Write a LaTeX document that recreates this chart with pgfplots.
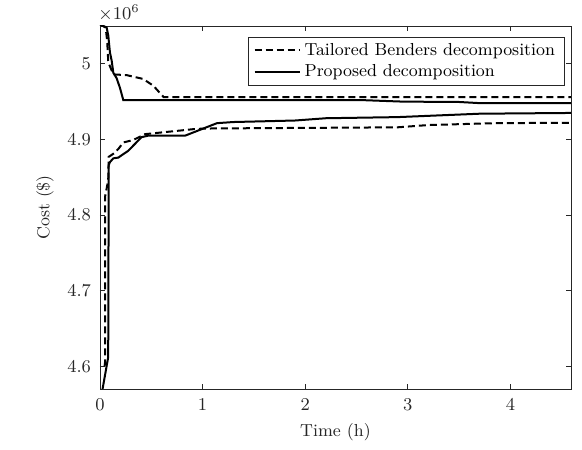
\documentclass[border=0pt]{standalone}
\usepackage{pgfplots}
\pgfplotsset{compat=1.18}
\definecolor{axgray}{rgb}{0.15,0.15,0.15}
\begin{document}
\begin{tikzpicture}[font=\fontsize{8.7}{10.4}\selectfont]
\begin{axis}[
  scale only axis,
  width=235.5pt, height=181.5pt,
  xmin=0, xmax=4.59,
  ymin=4570000, ymax=5050000,
  xtick={0,1,2,3,4},
  ytick={4600000,4700000,4800000,4900000,5000000},
  scaled y ticks=base 10:-6,
  ytick scale label code/.code={$\times10^{#1}$},
  every y tick scale label/.style={at={(rel axis cs:0,1)}, anchor=south west, inner sep=0pt, yshift=2pt, text=axgray},
  tick align=inside,
  major tick length=2.35pt,
  minor tick num=0,
  axis line style={axgray, line width=0.35pt},
  every tick/.style={axgray, line width=0.35pt},
  tick label style={text=axgray},
  yticklabel style={xshift=-1pt},
  xticklabel style={yshift=-1.5pt},
  xlabel={Time (h)},
  ylabel={Cost (\$)},
  xlabel style={at={([yshift=-21.5pt]axis description cs:0.5,0)}, anchor=center, text=axgray},
  ylabel style={at={([xshift=-27.5pt]axis description cs:0,0.5)}, anchor=center, text=axgray},
  legend cell align=left,
  legend style={at={(axis description cs:1,1)}, anchor=north east, xshift=-3pt, yshift=-5.3pt,
    draw=axgray, line width=0.35pt, fill=white, inner xsep=2.8pt, inner ysep=1pt,
    font=\fontsize{8.7}{10.4}\selectfont, row sep=-0.7pt},
  legend image code/.code={\draw[#1, line width=1pt] (0pt,0pt) -- (22.5pt,0pt);},
]
\addplot[black, line width=1pt, dash pattern=on 3.5pt off 2pt] coordinates {
(0,5052000)(0.055,5048000)(0.07,5030000)(0.081,5002000)(0.13,4986000)(0.26,4985000)(0.42,4980000)(0.52,4971000)(0.62,4956000)(4.59,4956000)};
\addlegendentry{Tailored Benders decomposition}
\addplot[black, line width=1pt] coordinates {
(0,5052000)(0.065,5048000)(0.081,5037000)(0.097,5015000)(0.114,5004000)(0.130,4988000)(0.162,4981000)(0.195,4968000)(0.227,4952000)(2.55,4952000)(2.95,4950000)(3.50,4949500)(3.70,4948000)(4.59,4948000)};
\addlegendentry{Proposed decomposition}
\addplot[black, line width=1pt, dash pattern=on 3.5pt off 2pt, forget plot] coordinates {
(0.045,4600000)(0.049,4605000)(0.049,4824000)(0.08,4846000)(0.085,4877000)(0.13,4881000)(0.18,4887500)(0.227,4896000)(0.32,4899000)(0.44,4907000)(0.80,4912000)(0.94,4914000)(1.10,4914500)(2.90,4916000)(3.20,4919000)(3.85,4921500)(4.59,4922000)};
\addplot[black, line width=1pt, forget plot] coordinates {
(0.012,4560000)(0.08,4612000)(0.085,4866000)(0.097,4870000)(0.13,4875000)(0.18,4876000)(0.21,4879000)(0.276,4885000)(0.34,4894000)(0.406,4903000)(0.47,4905000)(0.83,4905000)(1.14,4921500)(1.30,4923000)(1.90,4925000)(2.20,4928000)(2.90,4929500)(3.70,4934000)(4.59,4935000)};
\coordinate (SW) at (rel axis cs:0,0);
\coordinate (NE) at (rel axis cs:1,1);
\end{axis}
\pgfresetboundingbox
\path[use as bounding box] ([shift={(-50pt,-30.5pt)}]SW) rectangle ([shift={(5.5pt,13pt)}]NE);
\end{tikzpicture}
\end{document}
